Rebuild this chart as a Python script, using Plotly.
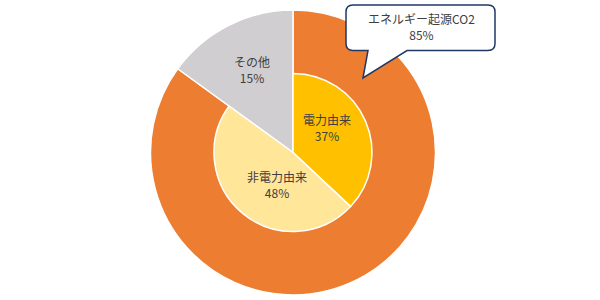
import plotly.graph_objects as go

# Data
outer_labels = ["エネルギー起源CO2", "その他"]
outer_values = [85, 15]
inner_labels = ["電力由来", "非電力由来", "その他"]
inner_values = [37, 48, 15]

ORANGE = "#ED7D31"
GRAY = "#D0CED0"
YELLOW = "#FFC000"
LIGHT = "#FFE699"
TEXT = "#404040"
FONT = "Noto Sans CJK JP"

W, H = 600, 300
cx, cy = 293, 152.5
R_out, R_in = 142.5, 79


def dom(r):
    return dict(x=[(cx - r) / W, (cx + r) / W],
                y=[1 - (cy + r) / H, 1 - (cy - r) / H])


def px(x):
    return x / W


def py(y):
    return 1 - y / H


fig = go.Figure()

fig.add_trace(go.Pie(
    labels=outer_labels, values=outer_values, sort=False,
    direction="clockwise", rotation=0, hole=0,
    domain=dom(R_out),
    marker=dict(colors=[ORANGE, GRAY], line=dict(color="white", width=1.5)),
    textinfo="none",
    hoverinfo="skip", showlegend=False,
))

fig.add_trace(go.Pie(
    labels=inner_labels, values=inner_values, sort=False,
    direction="clockwise", rotation=0, hole=0,
    domain=dom(R_in),
    marker=dict(colors=[YELLOW, LIGHT, "rgba(0,0,0,0)"],
                line=dict(color="white", width=[1.5, 1.5, 0])),
    textinfo="none",
    hoverinfo="skip", showlegend=False,
))

# Callout box for outer orange slice
L, Rt, T, B, rr = 346, 495, 5, 50.5, 7
tail_l, tail_r, tip = 368, 407, (363, 78)
pts = [
    ("M", L + rr, T), ("L", Rt - rr, T), ("Q", Rt, T, Rt, T + rr),
    ("L", Rt, B - rr), ("Q", Rt, B, Rt - rr, B), ("L", tail_r, B),
    ("L", tip[0], tip[1]), ("L", tail_l, B), ("L", L + rr, B),
    ("Q", L, B, L, B - rr), ("L", L, T + rr), ("Q", L, T, L + rr, T),
]
path = ""
for p in pts:
    coords = p[1:]
    s = " ".join(f"{px(coords[i]):.5f},{py(coords[i+1]):.5f}"
                 for i in range(0, len(coords), 2))
    path += f"{p[0]} {s} "
path += "Z"

fig.add_shape(type="path", path=path, xref="paper", yref="paper",
              fillcolor="white", line=dict(color="#1F3864", width=1.5))

# Label block centres (pixels from top-left)
label_pos = [
    (outer_labels[0], outer_values[0], 421, 26),
    (inner_labels[0], inner_values[0], 327.5, 127.5),
    (inner_labels[1], inner_values[1], 277, 184),
    (inner_labels[2], inner_values[2], 252, 69),
]
for name, val, x, y in label_pos:
    fig.add_annotation(
        x=px(x), y=py(y), xref="paper", yref="paper",
        xanchor="center", yanchor="middle", align="center",
        text=f"{name}<br>{val}%", showarrow=False,
        font=dict(family=FONT, size=12, color=TEXT),
    )

fig.update_layout(
    width=W, height=H, margin=dict(l=0, r=0, t=0, b=0),
    paper_bgcolor="white", plot_bgcolor="white",
)

fig.write_html("out.html")
